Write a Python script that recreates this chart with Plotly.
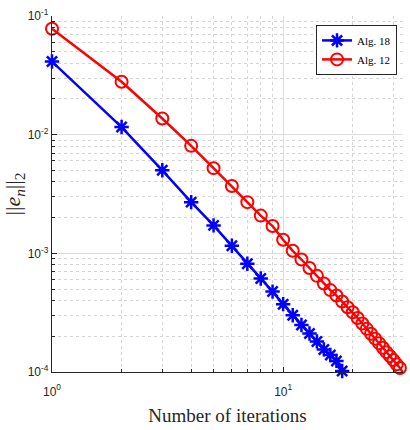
import plotly.graph_objects as go

# Data
iters_alg18 = list(range(1, 19))
err_alg18 = [0.0413, 0.0116, 0.00501, 0.0027, 0.00172, 0.00116, 0.000817, 0.000614,
             0.000476, 0.000373, 0.000301, 0.000249, 0.000211, 0.000181, 0.000155,
             0.000139, 0.000124, 0.000102]
iters_alg12 = list(range(1, 34))
err_alg12 = [0.078, 0.0279, 0.01368, 0.00805, 0.00522, 0.00369, 0.0027, 0.00208, 0.0017,
             0.0013, 0.00105, 0.000887, 0.000752, 0.000646, 0.000557, 0.00049, 0.000441,
             0.000393, 0.000351, 0.000319, 0.000285, 0.000256, 0.000231, 0.00021, 0.000191,
             0.000175, 0.00016, 0.000147, 0.000136, 0.000126, 0.000116, 0.000108, 0.0000985]

x_major = [1, 10]
x_major_text = ["10<sup>0</sup>", "10<sup>1</sup>"]
x_minor = [2, 3, 4, 5, 6, 7, 8, 9, 20, 30]
y_major = [1e-4, 1e-3, 1e-2, 1e-1]
y_major_text = ["10<sup>-4</sup>", "10<sup>-3</sup>", "10<sup>-2</sup>", "10<sup>-1</sup>"]
y_minor = [m * 10.0 ** e for e in (-4, -3, -2) for m in range(2, 10)]

fig = go.Figure()
fig.add_trace(go.Scatter(
    x=iters_alg18, y=err_alg18, name="Alg. 18", mode="lines+markers",
    line=dict(color="#0000ff", width=2.5),
    marker=dict(symbol="asterisk-open", size=12, line=dict(color="#0000ff", width=2.5)),
    cliponaxis=False))
fig.add_trace(go.Scatter(
    x=iters_alg12, y=err_alg12, name="Alg. 12", mode="lines+markers",
    line=dict(color="#ff0000", width=2.5),
    marker=dict(symbol="circle-open", size=12, line=dict(color="#ff0000", width=2)),
    cliponaxis=False))

tickfont = dict(family="Liberation Sans, Arial, sans-serif", size=12, color="#262626")
grid_major = "#dcdcdc"
grid_minor = "#d4d4d4"

fig.update_layout(
    width=410, height=430,
    margin=dict(l=52, r=7, t=13, b=55),
    paper_bgcolor="white", plot_bgcolor="white",
    showlegend=True,
    legend=dict(x=0.983, y=0.975, xanchor="right", yanchor="top",
                bgcolor="white", bordercolor="#262626", borderwidth=1,
                font=dict(family="Liberation Serif, Times New Roman, serif", size=11, color="black"),
                itemwidth=30, tracegroupgap=0),
    xaxis=dict(
        type="log", range=[0, 1.5185],
        tickmode="array", tickvals=x_major, ticktext=x_major_text,
        tickfont=tickfont, ticks="inside", ticklen=5, tickcolor="#262626",
        ticklabelstandoff=8,
        showline=True, linecolor="#262626", linewidth=1.2, mirror=False,
        showgrid=True, gridcolor=grid_major, gridwidth=1,
        zeroline=False,
        minor=dict(tickmode="array", tickvals=x_minor, ticks="inside", ticklen=3,
                   tickcolor="#262626", showgrid=True, gridcolor=grid_minor, griddash="dot"),
        title=dict(text="Number of iterations",
                   font=dict(family="Liberation Serif, Times New Roman, serif", size=19, color="#262626"),
                   standoff=11),
    ),
    yaxis=dict(
        type="log", range=[-4, -1],
        tickmode="array", tickvals=y_major, ticktext=y_major_text,
        tickfont=tickfont, ticks="inside", ticklen=5, tickcolor="#262626",
        showline=True, linecolor="#262626", linewidth=1.2, mirror=False,
        showgrid=True, gridcolor=grid_major, gridwidth=1,
        zeroline=False,
        minor=dict(tickmode="array", tickvals=y_minor, ticks="inside", ticklen=3,
                   tickcolor="#262626", showgrid=True, gridcolor=grid_minor, griddash="dot"),
        title=dict(text="||<i>e</i><sub><i>n</i></sub>||<sub>2</sub>",
                   font=dict(family="Liberation Serif, Times New Roman, serif", size=22, color="#262626"),
                   standoff=2),
    ),
)

fig.write_html("out.html")
